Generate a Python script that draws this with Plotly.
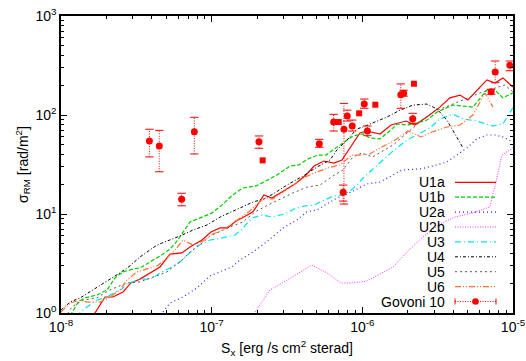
import plotly.graph_objects as go

# ---------------- data ----------------
u1a_x = [1.51e-8, 1.68e-8, 1.96e-8, 2.21e-8, 2.58e-8, 2.91e-8, 3.34e-8, 3.90e-8, 4.54e-8, 5.29e-8, 6.35e-8,
         7.18e-8, 8.62e-8, 9.89e-8, 1.14e-7, 1.28e-7, 1.45e-7, 1.59e-7, 1.88e-7, 2.22e-7, 2.51e-7, 2.92e-7,
         3.57e-7, 4.23e-7, 4.78e-7, 5.56e-7, 6.48e-7, 7.32e-7, 8.53e-7, 9.64e-7, 1.07e-6, 1.31e-6, 1.55e-6,
         1.95e-6, 2.23e-6, 2.68e-6, 3.27e-6, 3.81e-6, 4.45e-6, 5.02e-6, 6.71e-6, 7.59e-6, 8.57e-6, 9.97e-6]
u1a_y = [0.67, 1.0, 1.45, 1.45, 1.63, 2.01, 2.20, 2.54, 2.92, 3.94, 4.04,
         4.64, 5.46, 6.58, 7.23, 7.23, 8.49, 9.12, 10.5, 15.6, 14.5, 16.7,
         20.1, 24.8, 30.5, 34.3, 32.7, 35.1, 49.8, 65.8, 68.9, 64.3, 79.3,
         86.9, 79.3, 95.5, 120, 149, 159, 142, 226, 210, 237, 192]

u1b_x = [1.08e-8, 1.18e-8, 1.30e-8, 1.44e-8, 1.73e-8, 2.02e-8, 2.28e-8, 2.58e-8, 3.01e-8, 3.34e-8, 3.90e-8,
         4.54e-8, 5.29e-8, 5.89e-8, 7.18e-8, 8.35e-8, 1.00e-7, 1.17e-7, 1.38e-7, 1.61e-7, 1.97e-7, 2.29e-7,
         2.71e-7, 3.31e-7, 3.79e-7, 4.36e-7, 5.07e-7, 5.73e-7, 6.68e-7, 7.78e-7, 8.67e-7, 1.01e-6, 1.12e-6,
         1.31e-6, 1.52e-6, 1.70e-6, 1.98e-6, 2.30e-6, 2.68e-6, 3.13e-6, 3.99e-6, 4.66e-6, 5.42e-6, 6.71e-6,
         7.59e-6, 8.57e-6, 9.97e-6]
u1b_y = [0.85, 1.0, 1.29, 1.42, 1.52, 1.71, 2.26, 2.60, 2.78, 2.85, 3.28,
         3.76, 4.43, 5.34, 8.30, 9.12, 10.2, 12.3, 15.6, 18.3, 19.2, 21.5,
         24.8, 30.5, 31.3, 36.0, 39.4, 39.4, 46.4, 54.6, 61.4, 64.3, 58.6,
         57.3, 68.9, 81.1, 79.3, 83.0, 88.9, 107, 126, 123, 120, 179,
         179, 149, 167]

u2a_x = [4.40e-8, 4.68e-8, 5.29e-8, 6.45e-8, 7.99e-8, 9.75e-8, 1.14e-7, 1.36e-7, 1.54e-7, 1.79e-7, 2.09e-7,
         2.44e-7, 2.97e-7, 3.68e-7, 4.28e-7, 5.00e-7, 5.65e-7, 6.77e-7, 7.91e-7, 9.20e-7, 1.07e-6, 1.31e-6,
         1.52e-6, 1.83e-6, 2.41e-6, 2.94e-6, 3.64e-6, 4.25e-6, 4.94e-6, 5.75e-6, 6.71e-6, 7.59e-6, 8.57e-6,
         9.97e-6]
u2a_y = [0.89, 1.0, 1.26, 1.45, 1.79, 2.37, 2.60, 2.92, 3.43, 3.94, 4.64,
         5.58, 7.23, 8.69, 10.5, 11.0, 12.3, 14.5, 15.9, 17.9, 20.1, 21.0,
         23.6, 27.8, 28.5, 30.5, 33.5, 39.4, 46.4, 57.3, 62.8, 62.8, 60.0,
         53.3]

u2b_x = [1.79e-7, 1.94e-7, 2.44e-7, 3.16e-7, 4.63e-7, 5.82e-7, 7.21e-7, 8.53e-7, 1.07e-6, 1.60e-6, 1.98e-6,
         2.52e-6, 3.27e-6, 4.11e-6, 5.33e-6, 7.03e-6, 7.69e-6, 8.43e-6, 9.97e-6]
u2b_y = [0.85, 1.02, 1.71, 2.15, 3.05, 2.54, 2.01, 2.01, 2.10, 2.92, 4.13,
         5.86, 7.92, 9.33, 10.2, 11.8, 20.6, 39.4, 46.4]

u3_x = [1.30e-8, 1.34e-8, 1.49e-8, 1.73e-8, 2.02e-8, 2.28e-8, 2.54e-8, 2.78e-8, 3.01e-8, 3.34e-8, 3.72e-8,
        4.08e-8, 4.54e-8, 5.29e-8, 6.16e-8, 7.18e-8, 7.99e-8, 9.75e-8, 1.17e-7, 1.43e-7, 1.59e-7, 1.85e-7,
        2.16e-7, 2.51e-7, 3.06e-7, 3.52e-7, 4.10e-7, 4.78e-7, 5.56e-7, 6.48e-7, 7.55e-7, 8.27e-7, 9.20e-7,
        1.01e-6, 1.12e-6, 1.31e-6, 1.60e-6, 1.98e-6, 2.30e-6, 2.81e-6, 3.27e-6, 3.99e-6, 4.66e-6, 5.75e-6,
        7.36e-6, 8.57e-6, 9.97e-6]
u3_y = [0.89, 1.02, 1.15, 1.35, 1.45, 1.63, 1.75, 2.01, 2.06, 2.20, 2.20,
        2.26, 2.54, 2.85, 3.28, 4.13, 4.75, 5.46, 5.72, 6.14, 7.05, 9.12,
        9.78, 9.33, 10.0, 11.2, 12.0, 12.3, 13.8, 15.2, 15.6, 17.1, 19.6,
        23.1, 26.6, 33.5, 43.3, 55.8, 62.8, 74.0, 91.2, 102, 91.2, 86.9,
        77.4, 81.1, 118]

u4_x = [1.00e-8, 1.15e-8, 1.34e-8, 1.63e-8, 1.82e-8, 2.21e-8, 2.46e-8, 2.87e-8, 3.34e-8, 4.34e-8, 5.29e-8,
        6.16e-8, 7.52e-8, 9.31e-8, 1.14e-7, 1.47e-7, 1.88e-7, 2.22e-7, 2.55e-7, 3.16e-7, 4.04e-7, 5.00e-7,
        6.10e-7, 6.77e-7, 7.91e-7, 9.20e-7, 1.01e-6, 1.17e-6, 1.46e-6, 1.78e-6, 2.17e-6, 2.68e-6, 3.13e-6,
        3.64e-6, 4.25e-6, 4.66e-6]
u4_y = [1.07, 1.29, 1.42, 1.71, 1.92, 2.31, 2.54, 2.99, 3.68, 4.86, 5.46,
        6.00, 6.89, 7.74, 9.33, 11.2, 13.2, 14.2, 15.9, 19.6, 24.2, 29.8,
        35.1, 44.3, 55.8, 72.3, 75.7, 83.0, 95.5, 112, 126, 129, 115,
        88.9, 60.0, 46.4]

u5_x = [1.06e-8, 1.18e-8, 1.40e-8, 1.73e-8, 2.11e-8, 2.74e-8, 3.34e-8, 3.90e-8, 5.05e-8, 5.53e-8, 6.16e-8,
        7.18e-8, 8.35e-8, 9.75e-8, 1.32e-7, 1.61e-7, 1.94e-7, 2.36e-7, 2.84e-7, 3.46e-7, 4.28e-7, 5.23e-7,
        6.38e-7, 7.44e-7, 8.67e-7, 9.93e-7, 1.17e-6, 1.60e-6, 1.98e-6, 2.41e-6, 2.94e-6, 3.64e-6, 4.66e-6,
        6.03e-6, 7.59e-6, 8.83e-6, 9.97e-6]
u5_y = [0.89, 1.15, 1.35, 1.42, 1.71, 2.01, 2.06, 2.26, 2.60, 2.92, 3.28,
        4.13, 4.86, 6.00, 7.40, 8.30, 10.5, 12.3, 14.2, 16.3, 18.7, 19.6,
        24.2, 27.8, 37.7, 41.3, 37.7, 49.8, 65.8, 84.9, 107, 123, 142,
        167, 187, 201, 171]

u6_x = [1.00e-8, 1.15e-8, 1.34e-8, 1.49e-8, 1.82e-8, 2.11e-8, 2.46e-8, 2.74e-8, 3.19e-8, 3.72e-8, 4.34e-8,
        5.05e-8, 5.71e-8, 6.45e-8, 7.52e-8, 8.76e-8, 1.02e-7, 1.19e-7, 1.47e-7, 1.79e-7, 2.19e-7, 2.55e-7,
        3.11e-7, 3.68e-7, 4.16e-7, 5.00e-7, 5.92e-7, 7.10e-7, 8.53e-7, 9.64e-7, 1.12e-6, 1.35e-6, 1.65e-6,
        2.01e-6, 2.45e-6, 2.90e-6, 3.64e-6, 4.45e-6, 5.42e-6, 6.51e-6, 7.36e-6]
u6_y = [1.02, 1.26, 1.35, 1.29, 1.29, 1.45, 1.71, 2.15, 2.60, 2.78, 2.99,
        3.60, 4.33, 5.46, 4.86, 5.34, 6.28, 6.89, 8.69, 10.7, 14.2, 14.2,
        17.5, 20.6, 23.6, 26.6, 29.2, 31.3, 39.4, 39.4, 40.4, 47.5, 55.8,
        68.9, 60.0, 67.3, 75.7, 79.3, 100, 167, 120]

# Govoni 10 points with error bars
gov_x = [3.86e-8, 4.49e-8, 6.32e-8, 7.67e-8, 2.06e-7, 5.18e-7, 6.45e-7, 7.46e-7, 7.55e-7, 7.94e-7,
         8.57e-7, 1.03e-6, 1.08e-6, 1.80e-6, 1.88e-6, 2.16e-6, 7.16e-6, 7.62e-6, 9.53e-6]
gov_y = [54.6, 48.7, 14.1, 67.8, 53.7, 51.3, 84.9, 16.6, 71.8, 97.7,
         77.4, 129, 68.9, 160, 166, 91.9, 172, 272, 318]
gov_lo = [37.7, 26.7, 12.1, 40.4, 46.1, 47.2, 68.9, 13.5, 12.6, 86.9,
          68.9, 117, 61.8, 117, 155, 82.4, 162, 212, 280]
gov_hi = [71.8, 70.0, 16.2, 94.8, 61.4, 56.8, 101.6, 19.6, 131, 112,
          88.9, 145, 77.4, 206, 178, 104, 182, 351, 351]
# Govoni 10 points drawn without error bars
gov_sq_x = [2.18e-7, 6.97e-7, 9.53e-7, 1.22e-6, 2.20e-6]
gov_sq_y = [34.8, 84.9, 104, 127, 207]

x_tick_vals = [1e-8, 1e-7, 1e-6, 1e-5]
x_tick_text = ["10<sup>-8</sup>", "10<sup>-7</sup>", "10<sup>-6</sup>", "10<sup>-5</sup>"]
y_tick_vals = [1, 10, 100, 1000]
y_tick_text = ["10<sup>0</sup>", "10<sup>1</sup>", "10<sup>2</sup>", "10<sup>3</sup>"]

# ---------------- styles ----------------
RED = "#ff0000"
series = [
    ("U1a", u1a_x, u1a_y, dict(color="#ff0000", width=1.2, dash="solid")),
    ("U1b", u1b_x, u1b_y, dict(color="#00cc00", width=1.2, dash="4px,2px")),
    ("U2a", u2a_x, u2a_y, dict(color="#2828ff", width=1.2, dash="1px,3px")),
    ("U2b", u2b_x, u2b_y, dict(color="#ff30ff", width=1.0, dash="1px,1.5px")),
    ("U3", u3_x, u3_y, dict(color="#00e5e5", width=1.2, dash="6px,3px,1px,3px")),
    ("U4", u4_x, u4_y, dict(color="#000000", width=1.0, dash="3px,2px,1px,2px")),
    ("U5", u5_x, u5_y, dict(color="#555555", width=1.0, dash="2px,3px")),
    ("U6", u6_x, u6_y, dict(color="#ff7030", width=1.2, dash="6px,2px,1px,2px,1px,2px")),
]

FONT = "Liberation Sans, Arial, Helvetica, sans-serif"
fig = go.Figure()

for name, xs, ys, st in series:
    fig.add_trace(go.Scatter(x=xs, y=ys, mode="lines", name=name, line=st,
                             showlegend=False, cliponaxis=True))

# error bars as dotted segments
eb_x, eb_y = [], []
for xv, lo, hi in zip(gov_x, gov_lo, gov_hi):
    eb_x += [xv, xv, None]
    eb_y += [lo, hi, None]
fig.add_trace(go.Scatter(x=eb_x, y=eb_y, mode="lines", line=dict(color=RED, width=1, dash="1px,1.5px"),
                         showlegend=False, hoverinfo="skip"))
fig.add_trace(go.Scatter(x=gov_x + gov_x, y=gov_lo + gov_hi, mode="markers",
                         marker=dict(symbol="line-ew", size=6, line=dict(color=RED, width=1)),
                         showlegend=False, hoverinfo="skip"))
fig.add_trace(go.Scatter(x=gov_x, y=gov_y, mode="markers", name="Govoni 10",
                         marker=dict(symbol="circle", size=7, color=RED), showlegend=False))
fig.add_trace(go.Scatter(x=gov_sq_x, y=gov_sq_y, mode="markers",
                         marker=dict(symbol="square", size=6, color=RED), showlegend=False))

# ---------------- custom gnuplot-style legend ----------------
W, H = 526, 361
L, R, T, B = 61, 13, 16, 48
pw, ph = W - L - R, H - T - B


def px(xp):
    return (xp - L) / pw


def py(yp):
    return (H - B - yp) / ph


row0, dy = 182.3, 14.9
text_right, s0, s1 = 447, 455, 496
names = [s[0] for s in series] + ["Govoni 10"]
for i, nm in enumerate(names):
    yy = row0 + i * dy
    fig.add_annotation(x=px(text_right), y=py(yy), xref="paper", yref="paper", text=nm,
                       showarrow=False, xanchor="right", yanchor="middle",
                       font=dict(family=FONT, size=14, color="black"))
    if i < len(series):
        st = series[i][3]
        fig.add_shape(type="line", xref="paper", yref="paper", x0=px(s0), x1=px(s1), y0=py(yy), y1=py(yy),
                      line=dict(color=st["color"], width=st["width"], dash=st["dash"]))
    else:
        fig.add_shape(type="line", xref="paper", yref="paper", x0=px(s0), x1=px(s1), y0=py(yy), y1=py(yy),
                      line=dict(color=RED, width=1, dash="1px,1.5px"))
        for xe in (s0, s1):
            fig.add_shape(type="line", xref="paper", yref="paper", x0=px(xe), x1=px(xe),
                          y0=py(yy - 3), y1=py(yy + 3), line=dict(color=RED, width=1))
        xc = (s0 + s1) / 2
        fig.add_shape(type="circle", xref="paper", yref="paper", x0=px(xc - 3.3), x1=px(xc + 3.3),
                      y0=py(yy + 3.3), y1=py(yy - 3.3), line=dict(color=RED, width=0), fillcolor=RED)

x_minor = [m * 10.0 ** e for e in (-8, -7, -6) for m in range(2, 10)]
y_minor = [m * 10.0 ** e for e in (0, 1, 2) for m in range(2, 10)]

axis_common = dict(showline=True, linecolor="black", linewidth=1.5, mirror="allticks",
                   ticks="inside", ticklen=6, tickwidth=1.2, tickcolor="black",
                   showgrid=False, zeroline=False,
                   tickfont=dict(family=FONT, size=14, color="black"))

fig.update_xaxes(type="log", range=[-8, -5], tickvals=x_tick_vals, ticktext=x_tick_text,
                 minor=dict(tickvals=x_minor, ticks="inside", ticklen=3, tickcolor="black", tickwidth=1),
                 title=dict(text="S<sub>x</sub> [erg /s cm<sup>2</sup> sterad]", standoff=10,
                            font=dict(family=FONT, size=14, color="black")),
                 **axis_common)
fig.update_yaxes(type="log", range=[0, 3], tickvals=y_tick_vals, ticktext=y_tick_text,
                 minor=dict(tickvals=y_minor, ticks="inside", ticklen=3, tickcolor="black", tickwidth=1),
                 title=dict(text="σ<sub>RM</sub> [rad/m<sup>2</sup>]", standoff=4,
                            font=dict(family=FONT, size=14, color="black")),
                 **axis_common)

fig.update_layout(width=W, height=H, margin=dict(l=L, r=R, t=T, b=B, autoexpand=False),
                  plot_bgcolor="white", paper_bgcolor="white", showlegend=False,
                  font=dict(family=FONT, size=14, color="black"))

fig.write_html("out.html")
